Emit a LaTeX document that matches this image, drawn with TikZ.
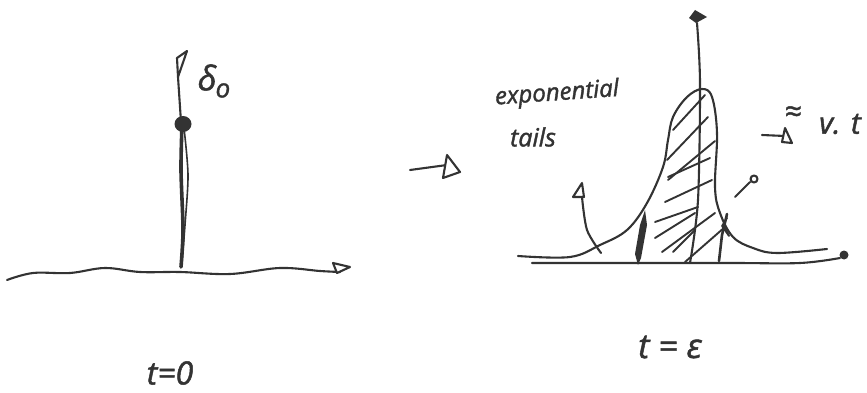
\documentclass[tikz,border=0pt]{standalone}
\usepackage{fontspec}
\setmainfont{Open Sans}[ItalicFeatures={FakeBold=1.5}]
\definecolor{ink}{HTML}{333333}
\tikzset{
  stroke/.style={draw=ink,line width=2.1pt,line cap=round,line join=round},
  fat/.style={stroke,line width=3.6pt},
  hatch/.style={stroke,line width=1.9pt},
  head/.style={stroke,fill=white},
  hand/.style={text=ink,inner sep=0pt,font=\fontsize{#1}{#1}\selectfont\itshape},
  hand/.default=26
}
\begin{document}
\begin{tikzpicture}[x=1pt,y=-1pt]
\useasboundingbox (0,0) rectangle (867,393);
% left axis
\draw[stroke] plot[smooth,tension=0.6] coordinates {(7,280) (33,273) (70,273) (105,268) (140,272) (180,272) (230,274) (280,268) (320,271) (340,272)};
\draw[head] (333,263) -- (350,267) -- (337,273) -- cycle;
% left spike
\draw[stroke] (181,122) -- (178,77);
\draw[head] (177,58) -- (187,51) -- (178,77) -- cycle;
\draw[fat] plot[smooth] coordinates {(182,125) (181,170) (183,230) (181,267)};
\draw[stroke,line width=1.6pt] plot[smooth] coordinates {(184,128) (188,175) (185,225) (182,262)};
\fill[ink] (183,124) ellipse (8.5pt and 8pt);
\node[hand=34] (delta) at (214,81) {δ\kern-1pt\raisebox{-7pt}{\fontsize{26}{26}\selectfont o}};
% transition arrow
\draw[stroke] (410,170) -- (447,165);
\draw[head] (447,155) -- (460,172) -- (443,178) -- cycle;
% right axis
\draw[stroke] plot[smooth,tension=0.6] coordinates {(532,263) (633,263) (733,263) (800,263) (840,258)};
\fill[ink] (844,255) circle (4.5pt);
% bell curve
\draw[stroke] plot[smooth,tension=0.6] coordinates {(518,256) (570,257) (600,245) (627,230) (647,203) (663,167) (668,140) (673,117) (687,97) (702,89) (712,97) (717,133) (715,187) (720,213) (733,237) (753,248) (777,253) (827,249)};
% right vertical axis
\draw[stroke] plot[smooth] coordinates {(690,263) (698,200) (700,83) (697,23)};
\fill[ink] (689,18) -- (695,10) -- (707,17) -- (696,23) -- cycle;
% hatching
\draw[hatch] (705,95) -- (673,130);
\draw[hatch] (708,117) -- (667,160);
\draw[hatch] (715,141) -- (668,180);
\draw[hatch] (710,158) -- (668,177);
\draw[hatch] (712,180) -- (665,202);
\draw[hatch] (698,207) -- (655,222);
\draw[hatch] (695,213) -- (655,238);
\draw[hatch] (715,213) -- (662,252);
\draw[hatch] (695,230) -- (673,252);
\draw[hatch] (725,227) -- (685,262);
% thick strokes
\fill[ink] (645,210) -- (647,225) -- (641,258) -- (638,265) -- (635,254) -- (640,225) -- cycle;
\draw[fat,line width=2.6pt] (727,214) -- (722,235) -- (719,261);
\draw[stroke,line width=1.8pt] (723,224) -- (729,236) -- (722,226) -- (727,218);
% pointers
\draw[stroke] plot[smooth] coordinates {(601,253) (587,230) (582,197)};
\draw[head] (573,197) -- (582,183) -- (584,197) -- cycle;
\draw[stroke] (735,197) -- (750,182);
\draw[head] (754,179) circle (3.5pt);
\draw[stroke] (762,135) -- (785,136);
\draw[head] (785,128) -- (792,143) -- (782,142) -- cycle;
% labels
\node[hand=24,rotate=4] (tailsA) at (557,94) {exponential};
\node[hand=25] (tailsB) at (533,137) {tails};
\node[hand=30] (approx) at (793,114) {≈};
\node[hand=30] (vt) at (840,124) {v. t};
\node[hand=32] (t0) at (170,373) {t=0};
\node[hand=34] (te) at (670,347) {t = ε};
\end{tikzpicture}
\end{document}
